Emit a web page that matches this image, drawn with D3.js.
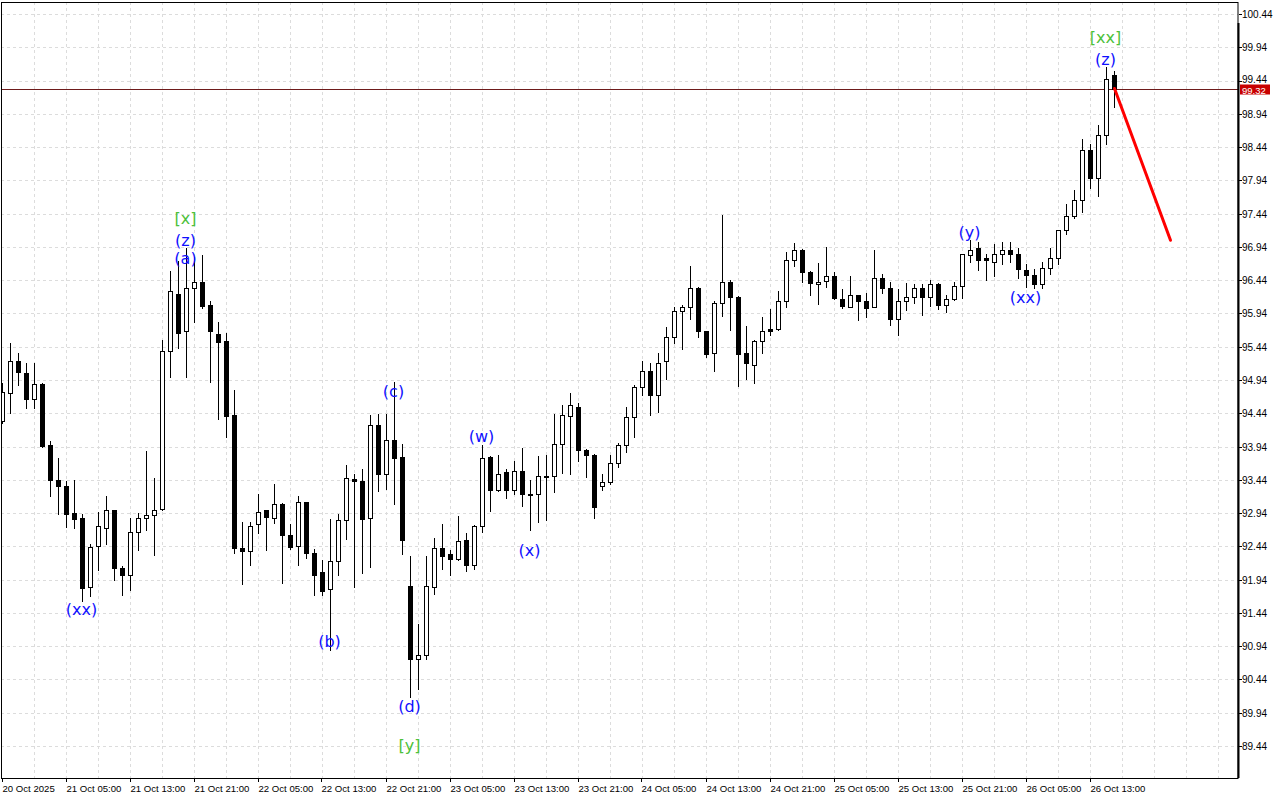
<!DOCTYPE html>
<html>
<head>
<meta charset="utf-8">
<script src="https://cdn.jsdelivr.net/npm/d3@7"></script>
<style>
  html, body { margin: 0; padding: 0; background: #ffffff; }
  svg { display: block; }
</style>
</head>
<body>
<svg id="chart" width="1280" height="800"></svg>
<script>
// ---- data (hourly bars, 20 Oct 21:00 .. 26 Oct 16:00) ----
const opens = [
94.33,94.75,95.22,95.04,94.65,94.88,93.97,93.43,93.34,92.94,
92.86,91.83,92.45,92.72,92.98,92.12,92.01,92.65,92.86,92.91,
93.00,95.38,96.23,95.67,96.33,96.41,96.06,95.63,95.52,94.41,
92.41,92.37,92.77,92.98,92.87,93.08,92.61,92.45,93.10,92.34,
92.05,91.80,92.22,92.84,93.45,93.42,92.87,94.27,93.52,94.04,
93.79,91.85,90.74,90.81,91.83,92.42,92.32,92.25,92.54,92.16,
92.74,93.79,93.28,93.55,93.28,93.58,93.22,93.22,93.50,93.49,
93.98,94.40,94.54,93.89,93.82,93.35,93.40,93.70,93.97,94.39,
94.83,95.08,94.72,95.22,95.58,95.97,96.03,96.33,95.67,95.35,
96.09,96.41,96.18,95.34,95.16,95.53,95.70,95.71,96.12,96.74,
96.90,96.56,96.39,96.43,96.51,96.16,96.04,96.21,96.12,96.04,
96.48,96.32,95.86,96.12,96.19,96.32,96.19,96.39,96.06,96.15,
96.35,96.82,96.92,96.78,96.71,96.84,96.90,96.83,96.60,96.52,
96.39,96.63,96.78,97.20,97.41,97.65,98.40,97.97,98.62,99.53];
const highs = [
94.89,95.50,95.35,95.20,95.19,94.89,94.03,93.77,93.42,93.43,
92.93,92.47,92.96,93.19,92.99,92.14,92.87,92.94,93.87,93.46,
95.54,96.58,96.73,96.92,96.79,96.82,96.12,95.81,95.65,94.79,
92.81,92.81,93.22,92.99,93.37,93.09,92.77,93.20,93.11,92.40,
92.23,92.85,92.92,93.67,93.52,93.61,94.41,94.43,94.43,94.91,
93.98,92.29,91.27,92.29,92.56,92.77,92.39,92.89,92.64,92.76,
93.97,93.80,93.81,93.61,93.73,93.92,93.43,93.80,93.82,94.43,
94.56,94.74,94.60,93.91,93.83,93.53,93.82,94.00,94.53,94.86,
95.23,95.20,95.34,95.74,96.03,96.07,96.65,96.34,95.68,96.12,
97.42,96.45,96.20,95.75,95.54,95.89,96.01,96.28,96.87,97.00,
96.91,96.58,96.70,96.94,96.57,96.30,96.50,96.22,96.24,96.90,
96.54,96.42,96.30,96.40,96.39,96.39,96.44,96.40,96.21,96.42,
96.84,97.04,97.02,96.84,96.99,97.01,97.01,96.93,96.69,96.61,
96.71,96.92,97.20,97.59,97.79,98.56,98.49,98.77,99.64,99.58];
const lows = [
94.30,94.44,94.86,94.52,94.52,93.93,93.20,92.92,92.73,92.71,
91.62,91.70,92.09,92.47,91.93,91.71,91.79,92.39,92.68,92.31,
92.99,94.98,95.42,94.99,95.81,96.02,94.91,94.35,94.08,92.34,
91.87,92.16,92.64,92.39,92.79,91.89,92.40,92.16,92.26,91.71,
91.71,90.89,92.01,92.55,91.83,92.04,92.13,93.27,93.30,93.08,
92.33,90.17,90.30,90.74,91.73,92.10,92.01,92.24,92.07,92.10,
92.65,92.97,93.27,93.16,93.23,93.05,92.69,92.80,92.83,93.26,
93.54,93.53,93.73,93.48,92.86,93.29,93.37,93.64,93.86,94.08,
94.71,94.42,94.46,94.95,95.50,95.40,95.85,95.58,95.29,95.08,
95.90,95.69,94.85,94.96,94.90,95.35,95.61,95.69,96.03,96.65,
96.41,96.22,96.08,96.34,96.15,96.02,96.03,95.84,95.89,96.03,
96.24,95.76,95.61,95.99,96.09,95.92,96.05,96.00,95.96,96.14,
96.17,96.71,96.60,96.45,96.51,96.69,96.71,96.47,96.34,96.33,
96.33,96.53,96.68,97.14,97.38,97.46,97.82,97.70,98.48,99.04];
const closes = [
94.76,95.22,95.06,94.65,94.88,93.95,93.44,93.34,92.93,92.85,
91.81,92.43,92.74,92.98,92.11,92.01,92.66,92.86,92.91,92.99,
95.37,96.27,95.65,96.32,96.42,96.05,95.68,95.51,94.40,92.41,
92.37,92.74,92.96,92.88,93.08,92.61,92.43,93.10,92.34,92.01,
91.77,92.22,92.83,93.46,93.42,92.85,94.27,93.52,94.04,93.77,
92.54,90.75,90.81,91.84,92.42,92.30,92.25,92.52,92.16,92.74,
93.77,93.28,93.53,93.28,93.58,93.23,93.21,93.49,93.48,93.98,
94.42,94.56,93.89,93.82,93.03,93.41,93.70,93.97,94.39,94.83,
95.07,94.72,95.20,95.58,95.97,96.04,96.33,95.67,95.33,96.09,
96.41,96.19,95.33,95.19,95.53,95.68,95.68,96.12,96.74,96.89,
96.57,96.40,96.42,96.51,96.17,96.05,96.21,96.12,96.02,96.48,
96.32,95.86,96.12,96.19,96.32,96.19,96.39,96.07,96.15,96.35,
96.83,96.90,96.74,96.74,96.84,96.90,96.83,96.61,96.52,96.39,
96.63,96.78,97.19,97.41,97.65,98.39,97.97,98.62,99.46,99.32];

const priceTicks = [100.44,99.94,99.44,98.94,98.44,97.94,97.44,96.94,96.44,95.94,95.44,94.94,94.44,93.94,93.44,92.94,92.44,91.94,91.44,90.94,90.44,89.94,89.44];
const timeTickBars = [0,8,16,24,32,40,48,56,64,72,80,88,96,104,112,120,128,136];
const timeTickLabels = ["20 Oct 2025","21 Oct 05:00","21 Oct 13:00","21 Oct 21:00","22 Oct 05:00","22 Oct 13:00","22 Oct 21:00","23 Oct 05:00","23 Oct 13:00","23 Oct 21:00","24 Oct 05:00","24 Oct 13:00","24 Oct 21:00","25 Oct 05:00","25 Oct 13:00","25 Oct 21:00","26 Oct 05:00","26 Oct 13:00"];

const currentPrice = 99.32;

// wave annotations
const waveText  = ["(xx)","[x]","(z)","(a)","(b)","(c)","(d)","[y]","(w)","(x)","(y)","(xx)","[xx]","(z)"];
const waveBar   = [10,23,23,23,41,49,51,51,60,66,121,128,138,138];
const wavePrice = [91.49,97.37,97.04,96.77,91.01,94.77,90.03,89.45,94.09,92.38,97.16,96.18,100.08,99.76];
const waveKind  = ["minor","major","minor","minor","minor","minor","minor","major","minor","minor","minor","minor","major","minor"];

// forecast line (bar index, price)
const forecastBars = [139,146];
const forecastPrices = [99.32,97.04];

// ---- layout ----
const W = 1280, H = 800;
const plotL = 1, plotT = 2, plotR = 1238, plotB = 778;

const svg = d3.select("#chart");
svg.append("rect").attr("width", W).attr("height", H).attr("fill", "#ffffff");

const x = d3.scaleLinear().domain([0, 154]).range([2.5, 2.5 + 8 * 154]);
const y = d3.scaleLinear().domain([89.44, 100.44]).range([746, 14]);
const py = v => Math.round(y(v));

const defs = svg.append("defs");
defs.append("clipPath").attr("id", "plotclip")
  .append("rect").attr("x", plotL + 1).attr("y", plotT + 1)
  .attr("width", plotR - plotL - 1).attr("height", plotB - plotT - 1);

const tagY = py(currentPrice);
// price labels are hidden where the current-price tag sits
defs.append("clipPath").attr("id", "axisclip")
  .append("path")
  .attr("d", `M${plotR},0H${W}V${tagY - 5}H${plotR}Z M${plotR},${tagY + 6}H${W}V${H}H${plotR}Z`);

const plot = svg.append("g").attr("clip-path", "url(#plotclip)");

// grid
const gridColor = "#dcdcdc";
plot.append("g").selectAll("line").data(priceTicks).join("line")
  .attr("x1", plotL).attr("x2", plotR)
  .attr("y1", d => py(d) + 0.5).attr("y2", d => py(d) + 0.5)
  .attr("stroke", gridColor).attr("stroke-width", 1).attr("stroke-dasharray", "3,3");
const vGrid = d3.range(4, 155, 4);
plot.append("g").selectAll("line").data(vGrid).join("line")
  .attr("x1", d => x(d)).attr("x2", d => x(d))
  .attr("y1", plotT).attr("y2", plotB)
  .attr("stroke", gridColor).attr("stroke-width", 1).attr("stroke-dasharray", "3,3");

// current price line
plot.append("line")
  .attr("x1", plotL).attr("x2", plotR)
  .attr("y1", tagY + 0.5).attr("y2", tagY + 0.5)
  .attr("stroke", "#6e1b1b").attr("stroke-width", 1);

// candles
const bars = opens.map((o, i) => ({ i, o, h: highs[i], l: lows[i], c: closes[i] }));
plot.append("g").selectAll("line").data(bars).join("line")
  .attr("x1", d => x(d.i)).attr("x2", d => x(d.i))
  .attr("y1", d => py(d.h)).attr("y2", d => py(d.l) + 1)
  .attr("stroke", "#000").attr("stroke-width", 1);

const up = bars.filter(d => d.c >= d.o);
const dn = bars.filter(d => d.c < d.o);
plot.append("g").selectAll("rect").data(up).join("rect")
  .attr("x", d => x(d.i) - 2)
  .attr("y", d => py(d.c) + 0.5)
  .attr("width", 4)
  .attr("height", d => Math.max(1, py(d.o) - py(d.c)))
  .attr("fill", "#fff").attr("stroke", "#000").attr("stroke-width", 1);
plot.append("g").selectAll("rect").data(dn).join("rect")
  .attr("x", d => x(d.i) - 2.5)
  .attr("y", d => py(d.o))
  .attr("width", 5)
  .attr("height", d => Math.max(1, py(d.c) - py(d.o) + 1))
  .attr("fill", "#000");

// forecast line
plot.append("line")
  .attr("x1", x(forecastBars[0])).attr("y1", y(forecastPrices[0]))
  .attr("x2", x(forecastBars[1])).attr("y2", y(forecastPrices[1]))
  .attr("stroke", "#ff0000").attr("stroke-width", 3).attr("stroke-linecap", "round");

// wave labels
const waves = waveText.map((t, k) => ({ t, b: waveBar[k], p: wavePrice[k], kind: waveKind[k] }));
plot.append("g").selectAll("text").data(waves).join("text")
  .attr("x", d => x(d.b) - 1)
  .attr("y", d => y(d.p))
  .attr("text-anchor", "middle")
  .attr("dominant-baseline", "central")
  .attr("font-family", "DejaVu Sans, Verdana, sans-serif")
  .attr("font-size", 16)
  .attr("fill", d => d.kind === "major" ? "#4cc13a" : "#1010ff")
  .text(d => d.t);

// frame
svg.append("rect")
  .attr("x", plotL + 0.5).attr("y", plotT + 0.5)
  .attr("width", plotR - plotL - 0.5).attr("height", plotB - plotT)
  .attr("fill", "none").attr("stroke", "#000").attr("stroke-width", 1);
svg.append("line")
  .attr("x1", plotR + 0.5).attr("x2", plotR + 0.5)
  .attr("y1", 23).attr("y2", plotB)
  .attr("stroke", "#000").attr("stroke-width", 2);

// price axis
const axisFont = "Liberation Sans, Arial, sans-serif";
const pa = svg.append("g");
pa.selectAll("line").data(priceTicks).join("line")
  .attr("x1", plotR + 1).attr("x2", plotR + 4)
  .attr("y1", d => py(d) + 0.5).attr("y2", d => py(d) + 0.5)
  .attr("stroke", "#000");
pa.append("g").attr("clip-path", "url(#axisclip)")
  .selectAll("text").data(priceTicks.filter(d => Math.abs(py(d) - tagY) > 10)).join("text")
  .attr("x", plotR + 4)
  .attr("y", d => py(d) + 0.5)
  .attr("dominant-baseline", "central")
  .attr("font-family", axisFont).attr("font-size", 10)
  .attr("fill", "#000")
  .text(d => d3.format(".2f")(d));
// label partly covered by the price tag: only its upper part shows
pa.append("g").attr("clip-path", "url(#axisclip)")
  .selectAll("text").data(priceTicks.filter(d => Math.abs(py(d) - tagY) <= 10)).join("text")
  .attr("x", plotR + 4)
  .attr("y", d => py(d) - 2)
  .attr("dominant-baseline", "central")
  .attr("font-family", axisFont).attr("font-size", 10)
  .attr("fill", "#000")
  .text(d => d3.format(".2f")(d));

// current price tag
svg.append("rect")
  .attr("x", plotR + 2).attr("y", tagY - 4.5)
  .attr("width", 30).attr("height", 10)
  .attr("fill", "#c80000");
svg.append("text")
  .attr("x", plotR + 4).attr("y", tagY + 1)
  .attr("dominant-baseline", "central")
  .attr("font-family", axisFont).attr("font-size", 9.5)
  .attr("fill", "#fff")
  .text(d3.format(".2f")(currentPrice));

// time axis
const ta = svg.append("g");
ta.selectAll("line").data(timeTickBars).join("line")
  .attr("x1", d => Math.round(x(d)) - 0.5).attr("x2", d => Math.round(x(d)) - 0.5)
  .attr("y1", plotB).attr("y2", plotB + 4)
  .attr("stroke", "#000");
ta.selectAll("text").data(timeTickBars).join("text")
  .attr("x", d => Math.round(x(d)) - 0.5)
  .attr("y", 788)
  .attr("dominant-baseline", "central")
  .attr("font-family", axisFont).attr("font-size", 9.6)
  .attr("fill", "#000")
  .text((d, k) => timeTickLabels[k]);
</script>
</body>
</html>
